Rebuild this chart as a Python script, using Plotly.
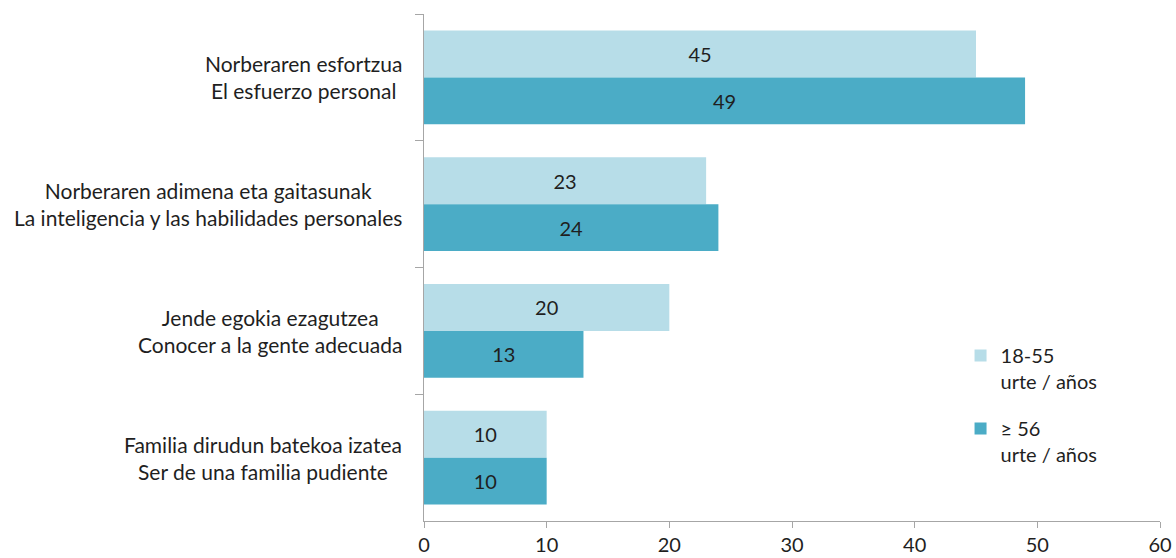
import plotly.graph_objects as go

categories = [
    "Norberaren esfortzua<br>El esfuerzo personal",
    "Norberaren adimena eta gaitasunak<br>La inteligencia y las habilidades personales",
    "Jende egokia ezagutzea<br>Conocer a la gente adecuada",
    "Familia dirudun batekoa izatea<br>Ser de una familia pudiente",
]
series_names = ["18-55<br>urte / años", "≥ 56<br>urte / años"]
young = [45, 23, 20, 10]
old = [49, 24, 13, 10]
x_ticks = [0, 10, 20, 30, 40, 50, 60]

FONT = "Lato"
FS = 21
TXT = "#1f1f1f"
colors = ["#B7DDE8", "#4BACC6"]

fig = go.Figure()
for i, (name, vals, col) in enumerate(zip(series_names, [young, old], colors)):
    fig.add_trace(go.Bar(
        y=categories, x=vals, name=name, orientation="h",
        legendgroup=f"g{i}",
        marker=dict(color=col, line=dict(width=0)),
        text=[str(v) for v in vals], textposition="inside",
        insidetextanchor="middle",
        textfont=dict(family=FONT, size=20, color=TXT),
        constraintext="none",
    ))

for c in categories:
    fig.add_annotation(
        x=0, xref="paper", y=c, yref="y", text=c, showarrow=False,
        xanchor="right", yanchor="middle", align="center", xshift=-20,
        font=dict(family=FONT, size=FS, color=TXT),
    )

fig.update_layout(
    width=1176, height=558,
    margin=dict(l=424, r=16, t=14, b=37, autoexpand=False),
    paper_bgcolor="white", plot_bgcolor="white",
    barmode="group", bargap=0.26, bargroupgap=0,
    font=dict(family=FONT, size=20, color=TXT),
    legend=dict(x=0.729, xanchor="left", y=0.365, yanchor="top",
                font=dict(family=FONT, size=20, color=TXT),
                traceorder="grouped", tracegroupgap=18, itemwidth=30,
                valign="top", bgcolor="rgba(0,0,0,0)"),
    showlegend=True,
)
fig.update_xaxes(
    range=[0, 60], tickvals=x_ticks, ticks="outside", ticklen=6,
    tickcolor="#A6A6A6", showline=True, linecolor="#A6A6A6", linewidth=1,
    showgrid=False, zeroline=False, automargin=False,
    tickfont=dict(family=FONT, size=20, color=TXT),
)
fig.update_yaxes(
    autorange="reversed", showticklabels=False, ticks="outside",
    tickson="boundaries", ticklen=8, tickcolor="#A6A6A6", automargin=False,
    showline=True, linecolor="#A6A6A6", linewidth=1, showgrid=False,
)
fig.write_html("out.html", config={"displayModeBar": False},
               post_script="document.body.style.margin='0';document.body.style.overflow='hidden';")
